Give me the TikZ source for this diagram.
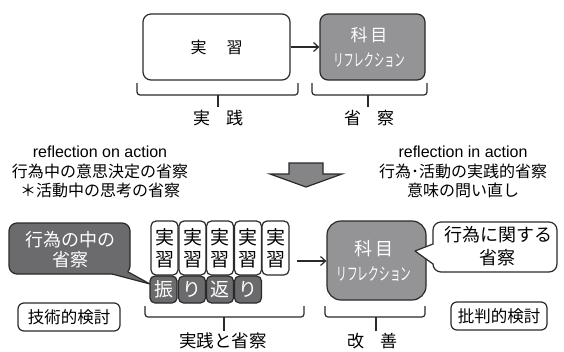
\documentclass[tikz,border=0pt]{standalone}
\usepackage{fontspec}
\usepackage{graphicx}
\setmainfont{Liberation Sans}
\newfontfamily\jp{Noto Sans CJK JP}
\usetikzlibrary{arrows.meta}
\definecolor{darkfill}{HTML}{6B6B6D}
\definecolor{midfill}{HTML}{949496}
\definecolor{ink}{HTML}{2A2A2A}
\definecolor{arrowfill}{HTML}{858587}
\newcommand{\fsz}[1]{\fontsize{#1}{#1}\selectfont}
\newcommand{\refl}[2]{\scalebox{#2}[1]{\fsz{#1}\jp リフレクション}}
\tikzset{
  box/.style={draw=ink, line width=1.2pt, rounded corners=8pt, inner sep=0pt, align=center},
  whitebox/.style={box, fill=white},
  graybox/.style={box, fill=midfill, text=white},
  darkbox/.style={box, fill=darkfill, text=white},
  cell/.style={box, rounded corners=5pt, minimum width=27pt},
  lbl/.style={inner sep=0pt, text=black},
  bracestyle/.style={draw=ink, line width=1.2pt, rounded corners=3pt},
  conn/.style={draw=ink, line width=1.2pt, -{Straight Barb[length=5pt,width=9pt]}},
}
\begin{document}
\begin{tikzpicture}[x=1pt,y=-1pt]
\useasboundingbox (0,0) rectangle (564,351);

% ---------- top row ----------
\node[whitebox, minimum width=147pt, minimum height=66pt] (jisshu) at (216.5,47) {\jp\fsz{16}実\hspace{20pt}習};
\node[graybox, minimum width=105pt, minimum height=66pt] (kamoku) at (372.5,47) {};
\node[lbl, text=white] (kamokuA) at (369,35) {\jp\fsz{17}科\hspace{3pt}目};
\node[lbl, text=white] (kamokuB) at (369,60) {\refl{17}{0.6}};
\draw[conn] (jisshu) -- (kamoku);

% top braces
\draw[bracestyle] (137,83) |- (298,95) -- (298,83);
\draw[bracestyle] (218,95) -- (218,107);
\node[lbl] (jissen) at (218,118) {\jp\fsz{17}実\hspace{16pt}践};
\draw[bracestyle] (312,83) |- (427,95) -- (427,83);
\draw[bracestyle] (368,95) -- (368,107);
\node[lbl] (seisatsu) at (369,118) {\jp\fsz{17}省\hspace{16pt}察};

% ---------- middle texts ----------
\node[lbl] (onA) at (100,152) {\fsz{16}reflection on action};
\node[lbl] (onB) at (100,171) {\jp\fsz{16}行為中の意思決定の省察};
\node[lbl] (onC) at (100,190) {\jp\fsz{16}＊活動中の思考の省察};
\node[lbl] (inA) at (463,152) {\fsz{16}reflection in action};
\node[lbl] (inB) at (463,171) {\jp\fsz{16}行為･活動の実践的省察};
\node[lbl] (inC) at (463,190) {\jp\fsz{16}意味の問い直し};

% big down arrow
\filldraw[fill=arrowfill, draw=ink, line width=1.2pt, line join=miter]
  (289,163) -- (323,163) -- (323,174) -- (342,174) -- (306,187) -- (270,174) -- (289,174) -- cycle;

% ---------- bottom row ----------
% left callout
\node[darkbox, minimum width=121pt, minimum height=51pt] (naka) at (69.5,248.5) {};
\fill[darkfill] (112,274) -- (150,284) -- (127.7,271.7) -- (118,266) -- cycle;
\draw[ink, line width=1.2pt, line join=round] (112,274) -- (150,284) -- (127.7,271.7);
\node[lbl, text=white] (nakaA) at (70,240) {\jp\fsz{18}行為の中の};
\node[lbl, text=white] (nakaB) at (70,260) {\jp\fsz{18}省察};

% practice stack
\foreach \i/\x in {1/164.5,2/192.5,3/220,4/248,5/275.5}{
  \node[cell, whitebox, rounded corners=5pt, minimum height=54pt, font=\jp\fontsize{19}{22}\selectfont] (s\i) at (\x,248) {実\\習};
}
\foreach \i/\x/\t in {1/163.5/振,2/192/り,3/220/返,4/248/り}{
  \node[cell, darkbox, rounded corners=5pt, minimum height=27pt, font=\jp\fsz{19}] (f\i) at (\x,289.5) {\t};
}

% right subject box
\node[graybox, rounded corners=14pt, minimum width=99pt, minimum height=79pt] (kamoku2) at (376.5,260.5) {};
\node[lbl, text=white] (kamoku2A) at (374,249) {\jp\fsz{18}科\hspace{3pt}目};
\node[lbl, text=white] (kamoku2B) at (374,274) {\refl{17.5}{0.61}};
\coordinate (astart) at (297,261);
\draw[conn] (astart) -- (kamoku2.west |- astart);

% right callout
\node[whitebox, minimum width=124pt, minimum height=50pt] (kansuru) at (495,247) {};
\fill[white] (433,244) -- (415,251) -- (433,264) -- (440,254) -- cycle;
\draw[ink, line width=1.2pt, line join=round] (433,244) -- (415,251) -- (433,264);
\node[lbl] (kansuruA) at (498,235) {\jp\fsz{18}行為に関する};
\node[lbl] (kansuruB) at (497,258) {\jp\fsz{18}省察};

% review boxes
\node[whitebox, rounded corners=6pt, minimum width=102pt, minimum height=28pt] (gijutsu) at (69,317) {\jp\fsz{16.5}技術的検討};
\node[whitebox, rounded corners=6pt, minimum width=96pt, minimum height=28pt] (hihan) at (499,316) {\jp\fsz{16.5}批判的検討};

% bottom braces
\draw[bracestyle] (145,306) |- (304,317) -- (304,306);
\draw[bracestyle] (224,317) -- (224,331);
\node[lbl] (jissento) at (223,341) {\jp\fsz{17.5}実践と省察};
\draw[bracestyle] (325,306) |- (425,317) -- (425,306);
\draw[bracestyle] (376,317) -- (376,331);
\node[lbl] (kaizen) at (372,341) {\jp\fsz{17}改\hspace{16pt}善};
\end{tikzpicture}
\end{document}
